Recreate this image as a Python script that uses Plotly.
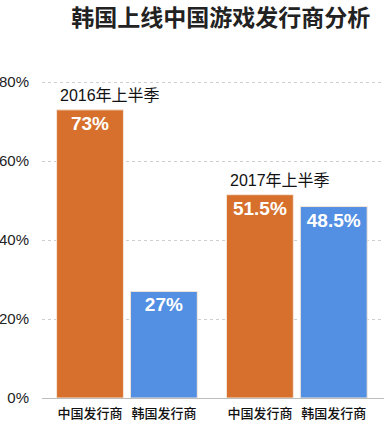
import plotly.graph_objects as go

# Data
categories = ["中国发行商", "韩国发行商", "中国发行商", "韩国发行商"]
values = [73, 27, 51.5, 48.5]
value_labels = ["73%", "27%", "51.5%", "48.5%"]
period_labels = ["2016年上半季", "2017年上半季"]
period_first_bar = [0, 2]
y_ticks = [0, 20, 40, 60, 80]
y_tick_labels = ["0%", "20%", "40%", "60%", "80%"]

# Layout / style (positions of the bars along a numeric axis)
x_pos = [0, 1, 2.3, 3.3]
colors = ["#D6702C", "#5390E3", "#D6702C", "#5390E3"]
FONT = "Liberation Sans, Arial, Noto Sans CJK SC, sans-serif"

fig = go.Figure()
fig.add_trace(go.Bar(
    x=x_pos, y=values, width=0.905,
    marker=dict(color=colors, line=dict(color="#F5E6D8", width=1)),
    text=value_labels, textposition="inside", insidetextanchor="end",
    textfont=dict(color="white", size=19, family=FONT, weight="bold"),
    textangle=0, constraintext="none", cliponaxis=False,
    hoverinfo="skip",
))

for lbl, i in zip(period_labels, period_first_bar):
    fig.add_annotation(
        x=x_pos[i] + 0.27, y=values[i], text=lbl, showarrow=False,
        xanchor="center", yanchor="bottom", yshift=4,
        font=dict(size=16, color="#111", family=FONT),
    )

fig.update_layout(
    width=384, height=427,
    margin=dict(l=42, r=0, t=81, b=29),
    paper_bgcolor="white", plot_bgcolor="white",
    showlegend=False,
    title=dict(text="<b>韩国上线中国游戏发行商分析</b>", x=0.575, xanchor="center",
               y=0.957, yanchor="middle",
               font=dict(size=23, color="#222", family="Noto Sans CJK SC, sans-serif")),
    font=dict(family=FONT),
)
fig.update_xaxes(
    range=[-0.65, 3.98], tickvals=x_pos, ticktext=categories,
    tickfont=dict(size=13, color="#111", family="Noto Sans CJK SC, sans-serif", weight=500),
    showgrid=False, zeroline=False, showline=False, ticks="", ticklabelstandoff=6,
)
fig.update_yaxes(
    range=[0, 80.3], tickvals=y_ticks, ticktext=y_tick_labels,
    tickfont=dict(size=15, color="#222", family=FONT),
    showgrid=True, gridcolor="#CFCFCF", griddash="dot", gridwidth=1,
    zeroline=True, zerolinecolor="#BDBDBD", zerolinewidth=1,
    showline=False, ticks="", ticklabelstandoff=12,
)

fig.write_html(
    "out.html",
    config={"displayModeBar": False},
    post_script="document.body.style.margin='0';document.body.style.overflow='hidden';",
)
